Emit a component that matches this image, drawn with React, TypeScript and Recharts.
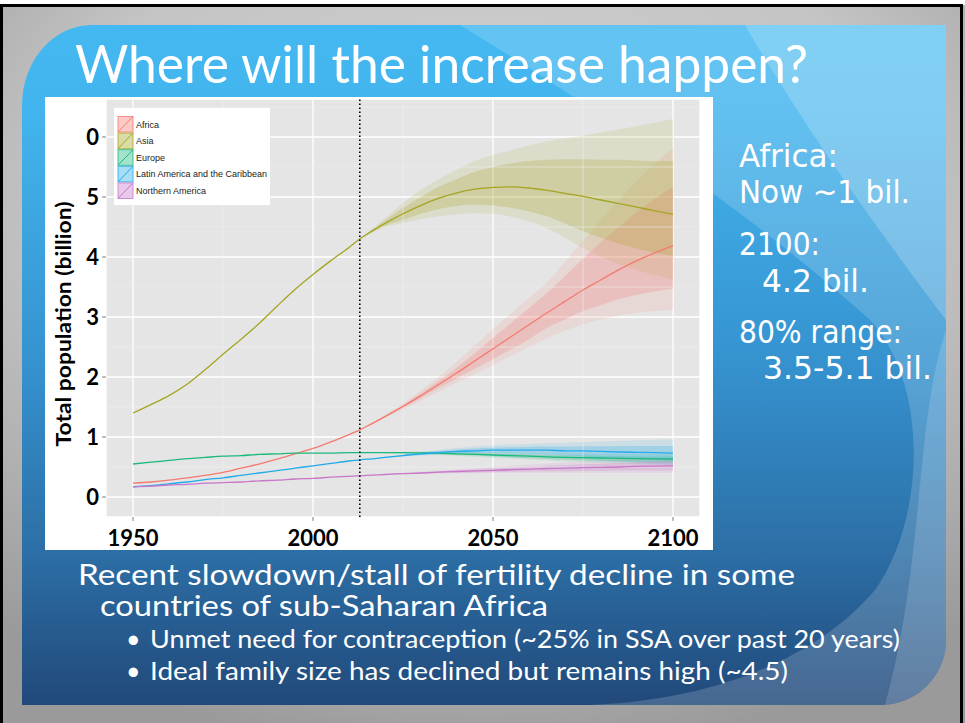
import React from 'react';
import { ComposedChart, Line, Area, XAxis, YAxis, CartesianGrid, ReferenceLine } from 'recharts';

// ---------- DATA ----------
const years = [1950, 1955, 1960, 1965, 1970, 1975, 1980, 1985, 1990, 1995, 2000, 2005, 2010, 2013, 2015, 2020, 2025, 2030, 2035, 2040, 2045, 2050, 2055, 2060, 2065, 2070, 2075, 2080, 2085, 2090, 2095, 2100];
const projYears = [2013, 2015, 2020, 2025, 2030, 2035, 2040, 2045, 2050, 2055, 2060, 2065, 2070, 2075, 2080, 2085, 2090, 2095, 2100];

const regions = ['Africa', 'Asia', 'Europe', 'Latin America and the Caribbean', 'Northern America'];
const colors = ['#F47A70', '#A4A520', '#1CB97C', '#22ABEB', '#C877CA'];

const africa = [0.23, 0.25, 0.28, 0.32, 0.36, 0.41, 0.48, 0.55, 0.63, 0.72, 0.81, 0.92, 1.04, 1.12, 1.18, 1.34, 1.51, 1.69, 1.88, 2.07, 2.27, 2.47, 2.67, 2.87, 3.07, 3.26, 3.45, 3.62, 3.79, 3.94, 4.07, 4.19];
const asia = [1.4, 1.54, 1.69, 1.88, 2.12, 2.38, 2.63, 2.89, 3.18, 3.46, 3.71, 3.94, 4.16, 4.3, 4.38, 4.56, 4.72, 4.86, 4.98, 5.07, 5.13, 5.16, 5.17, 5.15, 5.11, 5.06, 5.01, 4.95, 4.89, 4.83, 4.77, 4.71];
const europe = [0.55, 0.58, 0.61, 0.64, 0.66, 0.68, 0.69, 0.71, 0.72, 0.73, 0.73, 0.73, 0.74, 0.74, 0.74, 0.74, 0.74, 0.735, 0.73, 0.72, 0.71, 0.70, 0.69, 0.68, 0.67, 0.66, 0.655, 0.65, 0.645, 0.64, 0.635, 0.63];
const latin = [0.17, 0.19, 0.22, 0.25, 0.29, 0.32, 0.36, 0.40, 0.44, 0.48, 0.52, 0.56, 0.60, 0.62, 0.63, 0.66, 0.69, 0.72, 0.74, 0.76, 0.77, 0.78, 0.78, 0.78, 0.78, 0.77, 0.77, 0.76, 0.75, 0.745, 0.74, 0.73];
const northAm = [0.17, 0.18, 0.20, 0.21, 0.23, 0.24, 0.25, 0.27, 0.28, 0.30, 0.31, 0.33, 0.345, 0.355, 0.36, 0.375, 0.39, 0.40, 0.415, 0.425, 0.435, 0.445, 0.455, 0.465, 0.475, 0.48, 0.49, 0.495, 0.50, 0.51, 0.515, 0.52];

// projection intervals (80% inner, 95% outer), aligned with projYears
const africaInnerLo = [1.12, 1.18, 1.33, 1.49, 1.65, 1.82, 1.98, 2.14, 2.3, 2.46, 2.63, 2.82, 2.96, 3.1, 3.2, 3.3, 3.37, 3.43, 3.47];
const africaInnerHi = [1.12, 1.18, 1.35, 1.53, 1.73, 1.94, 2.16, 2.4, 2.65, 2.9, 3.15, 3.4, 3.68, 3.97, 4.25, 4.5, 4.75, 4.97, 5.18];
const africaOuterLo = [1.12, 1.17, 1.32, 1.46, 1.61, 1.76, 1.91, 2.05, 2.2, 2.35, 2.5, 2.65, 2.77, 2.88, 2.96, 3.02, 3.07, 3.1, 3.12];
const africaOuterHi = [1.12, 1.19, 1.37, 1.56, 1.78, 2.01, 2.26, 2.53, 2.8, 3.06, 3.32, 3.58, 3.92, 4.27, 4.62, 4.95, 5.27, 5.56, 5.82];

const asiaInnerLo = [4.3, 4.37, 4.52, 4.62, 4.72, 4.8, 4.85, 4.87, 4.86, 4.82, 4.76, 4.68, 4.56, 4.43, 4.32, 4.22, 4.14, 4.07, 4.02];
const asiaInnerHi = [4.3, 4.39, 4.61, 4.82, 5.0, 5.17, 5.3, 5.42, 5.5, 5.56, 5.6, 5.62, 5.63, 5.63, 5.62, 5.62, 5.61, 5.6, 5.6];
const asiaOuterLo = [4.3, 4.36, 4.49, 4.57, 4.63, 4.68, 4.71, 4.73, 4.72, 4.67, 4.59, 4.48, 4.32, 4.15, 4.0, 3.88, 3.78, 3.7, 3.62];
const asiaOuterHi = [4.3, 4.4, 4.65, 4.9, 5.12, 5.3, 5.46, 5.6, 5.7, 5.78, 5.86, 5.93, 5.98, 6.02, 6.08, 6.13, 6.18, 6.24, 6.3];

const europeInnerLo = [0.74, 0.74, 0.735, 0.73, 0.72, 0.71, 0.70, 0.69, 0.675, 0.66, 0.645, 0.635, 0.62, 0.61, 0.60, 0.59, 0.585, 0.58, 0.575];
const europeInnerHi = [0.74, 0.74, 0.745, 0.75, 0.75, 0.75, 0.74, 0.735, 0.725, 0.72, 0.71, 0.70, 0.695, 0.69, 0.685, 0.68, 0.68, 0.675, 0.675];
const europeOuterLo = [0.74, 0.74, 0.73, 0.72, 0.71, 0.70, 0.685, 0.67, 0.655, 0.64, 0.625, 0.61, 0.595, 0.58, 0.57, 0.56, 0.55, 0.545, 0.54];
const europeOuterHi = [0.74, 0.74, 0.75, 0.755, 0.76, 0.76, 0.755, 0.75, 0.745, 0.74, 0.735, 0.73, 0.725, 0.72, 0.72, 0.715, 0.715, 0.715, 0.715];

const latinInnerLo = [0.62, 0.63, 0.655, 0.68, 0.70, 0.72, 0.73, 0.735, 0.735, 0.73, 0.72, 0.71, 0.695, 0.68, 0.665, 0.65, 0.635, 0.62, 0.61];
const latinInnerHi = [0.62, 0.63, 0.665, 0.70, 0.735, 0.765, 0.79, 0.81, 0.82, 0.83, 0.835, 0.84, 0.84, 0.845, 0.845, 0.85, 0.85, 0.85, 0.85];
const latinOuterLo = [0.62, 0.63, 0.65, 0.67, 0.69, 0.705, 0.715, 0.715, 0.71, 0.70, 0.685, 0.67, 0.65, 0.63, 0.61, 0.59, 0.57, 0.55, 0.53];
const latinOuterHi = [0.62, 0.63, 0.67, 0.71, 0.75, 0.785, 0.815, 0.84, 0.86, 0.875, 0.885, 0.895, 0.905, 0.915, 0.925, 0.935, 0.945, 0.955, 0.96];

const naInnerLo = [0.355, 0.36, 0.372, 0.383, 0.39, 0.40, 0.405, 0.41, 0.415, 0.42, 0.425, 0.43, 0.43, 0.435, 0.435, 0.44, 0.44, 0.44, 0.44];
const naInnerHi = [0.355, 0.36, 0.378, 0.397, 0.41, 0.43, 0.445, 0.46, 0.475, 0.49, 0.505, 0.52, 0.53, 0.545, 0.555, 0.565, 0.58, 0.59, 0.60];
const naOuterLo = [0.355, 0.36, 0.37, 0.378, 0.385, 0.39, 0.395, 0.398, 0.40, 0.40, 0.40, 0.40, 0.40, 0.40, 0.40, 0.40, 0.40, 0.40, 0.40];
const naOuterHi = [0.355, 0.36, 0.38, 0.40, 0.42, 0.44, 0.46, 0.48, 0.50, 0.52, 0.54, 0.56, 0.575, 0.59, 0.605, 0.62, 0.635, 0.645, 0.655];

const xTicks = [1950, 2000, 2050, 2100];
const xMinor = [1975, 2025, 2075];
const yTicks = [0, 1, 2, 3, 4, 5, 6];
const yTickLabels = ['0', '1', '2', '3', '4', '5', '0'];
const yMinor = [0.5, 1.5, 2.5, 3.5, 4.5, 5.5, 6.5];
const baseYear = 2013;

// ---------- table for the library ----------
const lineSeries = [africa, asia, europe, latin, northAm];
const innerLo = [africaInnerLo, asiaInnerLo, europeInnerLo, latinInnerLo, naInnerLo];
const innerHi = [africaInnerHi, asiaInnerHi, europeInnerHi, latinInnerHi, naInnerHi];
const outerLo = [africaOuterLo, asiaOuterLo, europeOuterLo, latinOuterLo, naOuterLo];
const outerHi = [africaOuterHi, asiaOuterHi, europeOuterHi, latinOuterHi, naOuterHi];

const offset = years.length - projYears.length;
const data = years.map((year, i) => {
  const row: any = { year };
  const j = i - offset;
  lineSeries.forEach((s, k) => {
    row['l' + k] = s[i];
    row['i' + k] = j >= 0 ? [innerLo[k][j], innerHi[k][j]] : null;
    row['o' + k] = j >= 0 ? [outerLo[k][j], outerHi[k][j]] : null;
  });
  return row;
});

const tickStyle = { fill: '#000', fontSize: 22, fontWeight: 700, fontFamily: 'Lato, sans-serif' };

function Legend() {
  return (
    <svg width={156} height={97} style={{ position: 'absolute', left: 114, top: 108 }}>
      <rect x={0} y={0} width={156} height={97} fill="#fff" />
      {regions.map((name, k) => {
        const y = 8 + k * 16.6;
        return (
          <g key={name}>
            <rect x={4} y={y + 0.5} width={15} height={15.6} fill={colors[k]} fillOpacity={0.4} stroke={colors[k]} strokeOpacity={0.8} strokeWidth={1} />
            <line x1={4} y1={y + 16} x2={19} y2={y + 0.5} stroke={colors[k]} strokeWidth={1} />
            <text x={22} y={y + 11.5} fontSize={9} fontFamily="Liberation Sans, Arial, sans-serif" fill="#222">{name}</text>
          </g>
        );
      })}
    </svg>
  );
}

function Slide() {
  const white = '#ffffff';
  return (
    <svg width={965} height={723} style={{ position: 'absolute', left: 0, top: 0 }}>
      <defs>
        <radialGradient id="greyBg" cx="0.5" cy="0.3" r="0.75">
          <stop offset="0" stopColor="#d2d2d2" />
          <stop offset="0.6" stopColor="#c4c4c4" />
          <stop offset="1" stopColor="#9a9a9a" />
        </radialGradient>
        <linearGradient id="blueBg" x1="0" y1="0" x2="0" y2="1">
          <stop offset="0" stopColor="#44b8f1" />
          <stop offset="0.12" stopColor="#43b5ee" />
          <stop offset="0.5" stopColor="#3592cf" />
          <stop offset="0.78" stopColor="#2c6ea5" />
          <stop offset="1" stopColor="#21497a" />
        </linearGradient>
      </defs>
      <rect x={0} y={0} width={965} height={723} fill="#fff" />
      <rect x={0} y={5} width={965} height={718} fill="url(#greyBg)" />
      <rect x={0} y={4} width={963} height={3} fill="#000" />
      <rect x={0} y={4} width={3} height={719} fill="#000" />
      <rect x={960} y={4} width={3} height={719} fill="#000" />
      <path d="M22,105 A70,80 0 0 1 92,25 L946,25 L946,640 A65,65 0 0 1 881,705 L22,705 Z" fill="url(#blueBg)" />
      <path d="M460,25 C600,110 760,220 870,320 C930,385 925,520 875,590 C820,655 720,700 590,705 L881,705 A65,65 0 0 0 946,640 L946,25 Z" fill={white} fillOpacity={0.17} />
      <path d="M745,25 C800,120 870,220 946,320 L946,25 Z" fill={white} fillOpacity={0.2} />
      <path d="M946,330 C915,420 925,560 885,705 L881,705 A65,65 0 0 0 946,640 Z" fill={white} fillOpacity={0.15} />

      <text x={75} y={83} fontSize={52} fontFamily="Lato, sans-serif" fill={white} textLength={733} lengthAdjust="spacingAndGlyphs">Where will the increase happen?</text>

      <g fontFamily="DejaVu Sans, sans-serif" fontSize={32} fill={white}>
        <text x={739} y={167} textLength={99} lengthAdjust="spacingAndGlyphs">Africa:</text>
        <text x={739} y={203} textLength={171} lengthAdjust="spacingAndGlyphs">Now ~1 bil.</text>
        <text x={739} y={255} textLength={81} lengthAdjust="spacingAndGlyphs">2100:</text>
        <text x={762} y={292} textLength={107} lengthAdjust="spacingAndGlyphs">4.2 bil.</text>
        <text x={739} y={343} textLength={163} lengthAdjust="spacingAndGlyphs">80% range:</text>
        <text x={763} y={379} textLength={169} lengthAdjust="spacingAndGlyphs">3.5-5.1 bil.</text>
      </g>

      <g fontFamily="Lato, sans-serif" fill={white}>
        <text x={78} y={585} fontSize={28} textLength={717} lengthAdjust="spacingAndGlyphs">Recent slowdown/stall of fertility decline in some</text>
        <text x={100} y={616} fontSize={28} textLength={448} lengthAdjust="spacingAndGlyphs">countries of sub-Saharan Africa</text>
        <text x={126} y={648} fontSize={25}>•</text>
        <text x={150} y={648} fontSize={25} textLength={750} lengthAdjust="spacingAndGlyphs">Unmet need for contraception (~25% in SSA over past 20 years)</text>
        <text x={126} y={680} fontSize={25}>•</text>
        <text x={150} y={680} fontSize={25} textLength={638} lengthAdjust="spacingAndGlyphs">Ideal family size has declined but remains high (~4.5)</text>
      </g>

      <rect x={45} y={97} width={668} height={453} fill="#fff" />
      <text transform="translate(71,324) rotate(-90)" textAnchor="middle" fontSize={20} fontWeight={700} fontFamily="Lato, sans-serif" fill="#000" textLength={245} lengthAdjust="spacingAndGlyphs">Total population (billion)</text>
    </svg>
  );
}

export default function App() {
  return (
    <div style={{ position: 'absolute', left: 0, top: 0, width: 965, height: 723, overflow: 'hidden' }}>
      <Slide />
      <div style={{ position: 'absolute', left: 45, top: 97 }}>
        <ComposedChart width={668} height={453} data={data} margin={{ top: 2, right: 13, bottom: 0, left: 0 }}>
          <CartesianGrid fill="#E5E5E5" stroke="#FFFFFF" strokeWidth={1.3} />
          <XAxis dataKey="year" type="number" domain={[1942.5, 2107.5]} ticks={xTicks} interval={0} allowDataOverflow
            height={33} tickSize={4} tickMargin={9} axisLine={false} tickLine={{ stroke: '#7f7f7f' }} tick={tickStyle} />
          <YAxis type="number" domain={[-0.333, 6.633]} ticks={yTicks} interval={0} allowDataOverflow
            width={61} tickSize={4} tickMargin={3} axisLine={false} tickLine={{ stroke: '#7f7f7f' }} tick={tickStyle}
            tickFormatter={(v: number) => yTickLabels[yTicks.indexOf(v)] ?? String(v)} />
          {yMinor.map((v) => (
            <ReferenceLine key={'ym' + v} y={v} stroke="#F0F0F0" strokeWidth={0.6} ifOverflow="hidden" />
          ))}
          {xMinor.map((v) => (
            <ReferenceLine key={'xm' + v} x={v} stroke="#F0F0F0" strokeWidth={0.6} />
          ))}
          {regions.map((r, k) => (
            <Area key={'o' + k} dataKey={'o' + k} type="monotone" stroke="none" fill={colors[k]} fillOpacity={0.13}
              isAnimationActive={false} dot={false} activeDot={false} legendType="none" />
          ))}
          {regions.map((r, k) => (
            <Area key={'i' + k} dataKey={'i' + k} type="monotone" stroke="none" fill={colors[k]} fillOpacity={0.24}
              isAnimationActive={false} dot={false} activeDot={false} legendType="none" />
          ))}
          {regions.map((r, k) => (
            <Line key={'l' + k} dataKey={'l' + k} name={r} type="monotone" stroke={colors[k]} strokeWidth={1.3}
              dot={false} activeDot={false} isAnimationActive={false} />
          ))}
          <ReferenceLine x={baseYear} stroke="#000" strokeWidth={1.6} strokeDasharray="1.5 2.5" />
        </ComposedChart>
      </div>
      <Legend />
    </div>
  );
}
